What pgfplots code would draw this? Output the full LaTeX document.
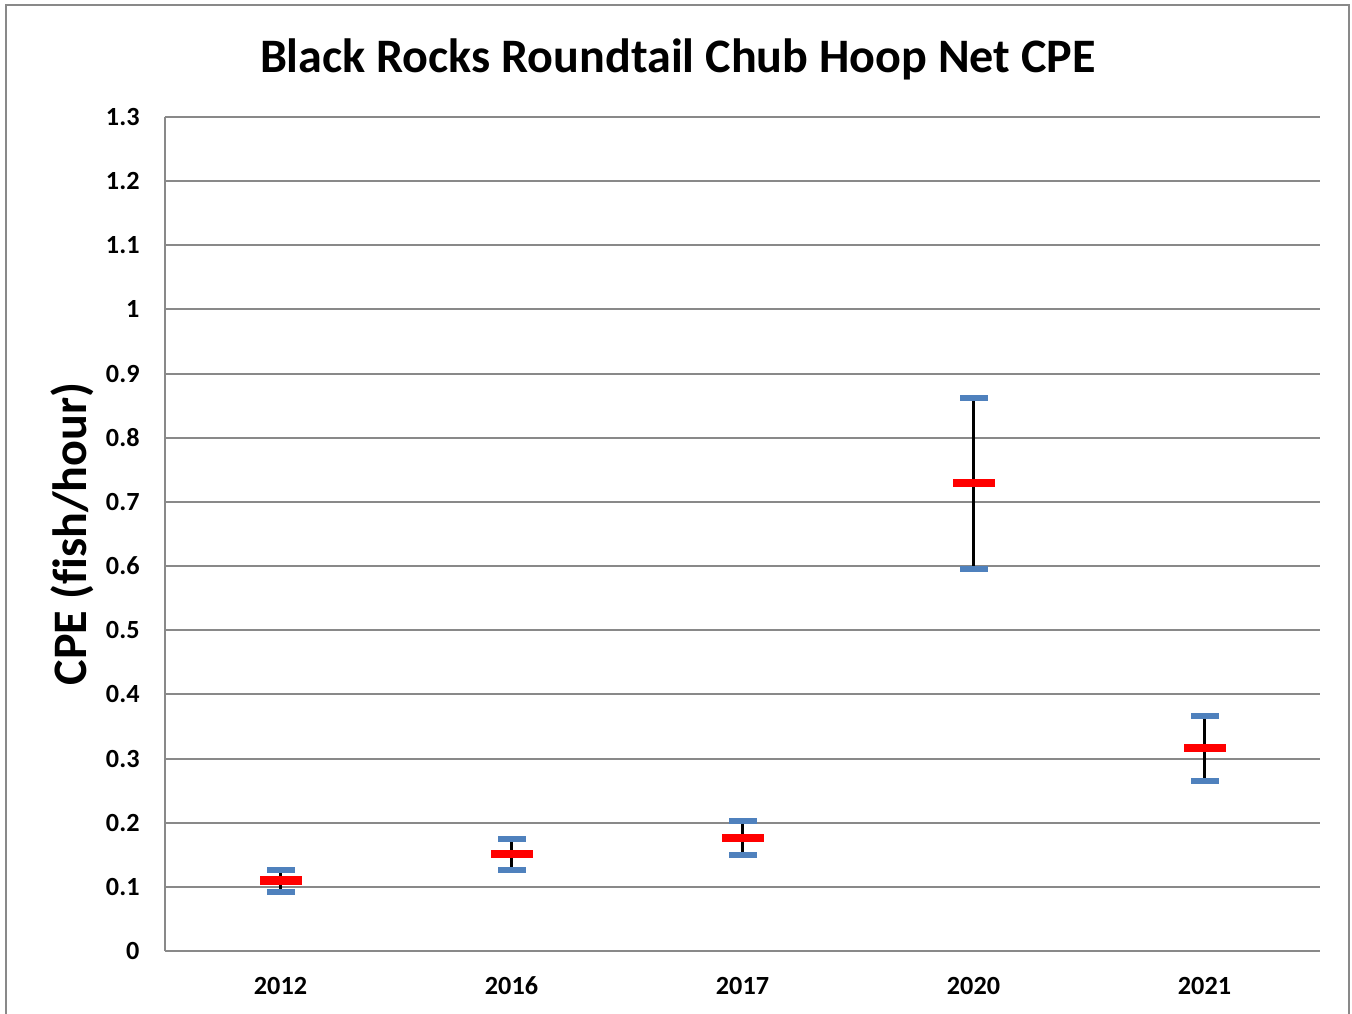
\documentclass[border=0pt]{standalone}
\usepackage{pgfplots}
\usepackage{pgfplotstable}
\pgfplotsset{compat=1.18}
\usepackage{fontspec}
\setmainfont{Carlito}[Ligatures=NoCommon]
\definecolor{gridgray}{HTML}{898989}
\definecolor{capblue}{HTML}{4F81BD}
\definecolor{meanred}{HTML}{FF0000}
\pgfplotstableread{
x lo m hi
0 0.092 0.110 0.127
1 0.127 0.151 0.175
2 0.149 0.176 0.203
3 0.595 0.729 0.862
4 0.265 0.316 0.367
}\cpedata
\begin{document}
\begin{tikzpicture}
\begin{scope}[x=0.42pt,y=0.42pt]
\useasboundingbox (0,0) rectangle (1352,1014);
\draw[gridgray, line width=0.85pt] (6,-20) rectangle (1349,1009);
\end{scope}
\begin{axis}[
  at={(69.3pt,26.46pt)}, anchor=south west,
  scale only axis, width=485.1pt, height=350.28pt,
  xmin=-0.5, xmax=4.5, ymin=0, ymax=1.3,
  xtick={0,1,2,3,4},
  xticklabels={2012,2016,2017,2020,2021},
  ytick={0,0.1,0.2,0.3,0.4,0.5,0.6,0.7,0.8,0.9,1,1.1,1.2,1.3},
  /pgf/number format/assume math mode=true,
  /pgf/number format/fixed, /pgf/number format/precision=1,
  ymajorgrids,
  grid style={gridgray, line width=0.85pt},
  axis x line=bottom, axis y line=left,
  axis line style={-, gridgray, line width=0.85pt},
  major tick length=0pt,
  tick style={draw=none},
  yticklabel style={font=\fontsize{11}{13}\selectfont\bfseries, anchor=east, inner sep=0pt, xshift=-10.5pt},
  xticklabel style={font=\fontsize{11}{13}\selectfont\bfseries, anchor=base, inner sep=0pt, yshift=-18.4pt},
  title={Black Rocks Roundtail Chub Hoop Net CPE},
  title style={font=\fontsize{20.2}{24}\selectfont\bfseries, at={(axis description cs:0.444,1.0516)}, anchor=center, inner sep=0pt},
  ylabel={CPE (fish/hour)},
  ylabel style={font=\fontsize{20.2}{24}\selectfont\bfseries, at={(axis description cs:-0.0805,0.5)}, anchor=center, inner sep=0pt},
  clip=false,
]
\addplot[draw=none, forget plot, mark=none,
  error bars/.cd, y dir=both, y explicit, error mark=none,
  error bar style={black, line width=0.85pt}]
  table[x=x, y=m, y error plus expr=\thisrow{hi}-\thisrow{m}, y error minus expr=\thisrow{m}-\thisrow{lo}] {\cpedata};
\addplot[only marks, mark=-, mark size=5.88pt, mark options={capblue, line width=2.5pt}]
  table[x=x, y=lo] {\cpedata};
\addplot[only marks, mark=-, mark size=5.88pt, mark options={capblue, line width=2.5pt}]
  table[x=x, y=hi] {\cpedata};
\addplot[only marks, mark=-, mark size=8.82pt, mark options={meanred, line width=3.5pt}]
  table[x=x, y=m] {\cpedata};
\end{axis}
\end{tikzpicture}
\end{document}
